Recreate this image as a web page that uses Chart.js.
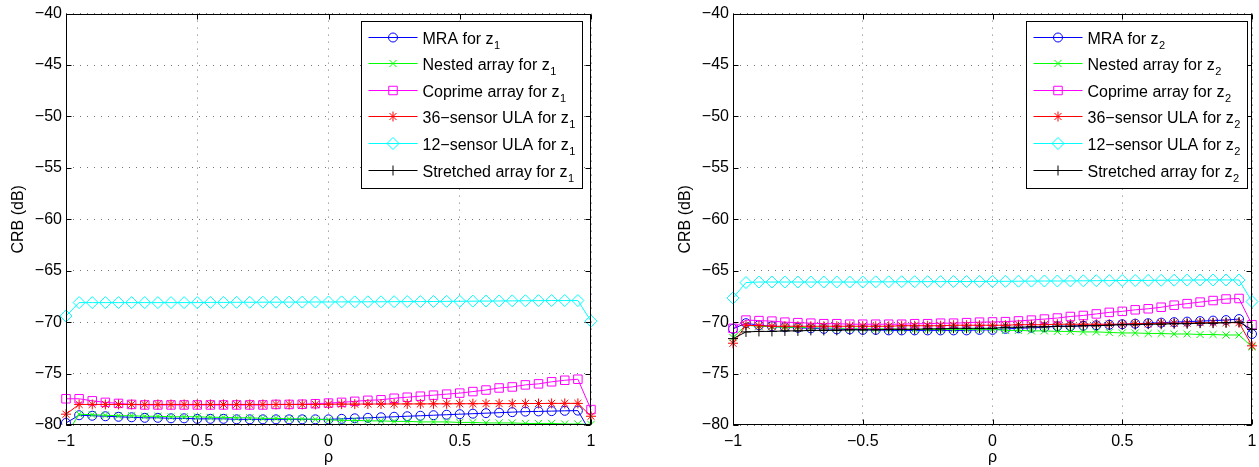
<!DOCTYPE html>
<html>
<head>
<meta charset="utf-8">
<script src="https://cdn.jsdelivr.net/npm/chart.js@4.4.0/dist/chart.umd.min.js"></script>
<style>
    body { margin: 0; background: #fff; width: 1259px; height: 467px; overflow: hidden; position: relative; }
    .panneau { position: absolute; top: 0; height: 467px; }
</style>
</head>
<body>
<div class="panneau" style="left:0;width:600px"><canvas id="graphique_z1"></canvas></div>
<div class="panneau" style="left:667px;width:592px"><canvas id="graphique_z2"></canvas></div>
<script>
// valeurs de rho (axe x)
const rho = [-1, -0.95, -0.9, -0.85, -0.8, -0.75, -0.7, -0.65, -0.6, -0.55, -0.5,
    -0.45, -0.4, -0.35, -0.3, -0.25, -0.2, -0.15, -0.1, -0.05, 0,
    0.05, 0.1, 0.15, 0.2, 0.25, 0.3, 0.35, 0.4, 0.45, 0.5,
    0.55, 0.6, 0.65, 0.7, 0.75, 0.8, 0.85, 0.9, 0.95, 1];

const noms = ['MRA for z', 'Nested array for z', 'Coprime array for z',
    '36\u2212sensor ULA for z', '12\u2212sensor ULA for z', 'Stretched array for z'];

// CRB pour z1 (dB)
const mra_z1 = [-79.8, -79.05, -79.1, -79.15, -79.2, -79.25, -79.3, -79.3, -79.35, -79.35, -79.4,
    -79.4, -79.4, -79.45, -79.45, -79.45, -79.45, -79.45, -79.45, -79.45, -79.45,
    -79.4, -79.35, -79.3, -79.25, -79.2, -79.15, -79.1, -79.05, -79.0, -78.95,
    -78.9, -78.85, -78.8, -78.75, -78.7, -78.68, -78.65, -78.62, -78.6, -80.8];
const nested_z1 = [-81.0, -78.95, -79.0, -79.05, -79.1, -79.1, -79.15, -79.15, -79.2, -79.2, -79.2,
    -79.25, -79.25, -79.3, -79.3, -79.35, -79.35, -79.4, -79.4, -79.45, -79.5,
    -79.55, -79.55, -79.6, -79.6, -79.65, -79.65, -79.7, -79.7, -79.7, -79.75,
    -79.75, -79.8, -79.8, -79.8, -79.85, -79.85, -79.85, -79.9, -79.9, -79.95];
const coprime_z1 = [-77.45, -77.45, -77.65, -77.8, -77.9, -78.0, -78.05, -78.05, -78.05, -78.05, -78.05,
    -78.05, -78.05, -78.05, -78.05, -78.05, -78.0, -78.0, -77.98, -77.93, -77.87,
    -77.8, -77.7, -77.6, -77.55, -77.4, -77.3, -77.2, -77.1, -77.0, -76.9,
    -76.75, -76.6, -76.4, -76.3, -76.1, -76.0, -75.8, -75.65, -75.55, -78.5];
const ula36_z1 = [-78.95, -78.0, -78.0, -78.0, -78.0, -78.0, -78.0, -78.0, -78.0, -78.0, -78.0,
    -78.0, -78.0, -78.0, -78.0, -78.0, -78.0, -78.0, -78.0, -78.0, -77.98,
    -77.97, -77.97, -77.96, -77.96, -77.95, -77.95, -77.95, -77.94, -77.94, -77.93,
    -77.93, -77.92, -77.92, -77.92, -77.91, -77.91, -77.9, -77.9, -77.9, -79.15];
const ula12_z1 = [-69.4, -68.1, -68.1, -68.1, -68.1, -68.1, -68.1, -68.1, -68.1, -68.1, -68.1,
    -68.08, -68.08, -68.07, -68.07, -68.06, -68.06, -68.05, -68.05, -68.04, -68.04,
    -68.03, -68.03, -68.02, -68.02, -68.01, -68.0, -68.0, -67.99, -67.98, -67.97,
    -67.96, -67.95, -67.94, -67.93, -67.92, -67.91, -67.9, -67.9, -67.9, -69.9];
const stretched_z1 = [-82.5, -81.6, -81.6, -81.6, -81.6, -81.6, -81.6, -81.6, -81.6, -81.6, -81.6,
    -81.6, -81.6, -81.6, -81.6, -81.6, -81.6, -81.6, -81.6, -81.6, -81.6,
    -81.6, -81.6, -81.6, -81.6, -81.6, -81.6, -81.6, -81.6, -81.6, -81.6,
    -81.6, -81.6, -81.6, -81.6, -81.6, -81.6, -81.6, -81.6, -81.6, -82.5];

// CRB pour z2 (dB)
const mra_z2 = [-70.65, -70.1, -70.3, -70.4, -70.5, -70.55, -70.6, -70.65, -70.7, -70.7, -70.75,
    -70.75, -70.8, -70.8, -70.8, -70.8, -70.8, -70.8, -70.8, -70.75, -70.75,
    -70.65, -70.6, -70.55, -70.5, -70.4, -70.4, -70.35, -70.3, -70.25, -70.2,
    -70.15, -70.1, -70.05, -70.0, -69.95, -69.9, -69.85, -69.8, -69.7, -71.15];
const nested_z2 = [-71.5, -70.3, -70.4, -70.45, -70.5, -70.5, -70.55, -70.55, -70.6, -70.6, -70.6,
    -70.65, -70.65, -70.65, -70.7, -70.7, -70.7, -70.7, -70.7, -70.7, -70.7,
    -70.8, -70.8, -70.85, -70.85, -70.9, -70.9, -70.95, -70.95, -71.0, -71.05,
    -71.05, -71.1, -71.1, -71.15, -71.15, -71.2, -71.2, -71.25, -71.25, -72.4];
const coprime_z2 = [-70.6, -69.8, -69.85, -69.9, -70.0, -70.05, -70.1, -70.15, -70.15, -70.2, -70.2,
    -70.2, -70.2, -70.2, -70.15, -70.15, -70.1, -70.1, -70.05, -70.0, -69.98,
    -69.95, -69.88, -69.8, -69.7, -69.6, -69.45, -69.35, -69.2, -69.05, -68.95,
    -68.8, -68.7, -68.55, -68.35, -68.2, -68.05, -67.9, -67.75, -67.7, -70.25];
const ula36_z2 = [-72.05, -70.3, -70.35, -70.4, -70.4, -70.4, -70.4, -70.4, -70.4, -70.4, -70.4,
    -70.4, -70.4, -70.35, -70.35, -70.35, -70.35, -70.3, -70.3, -70.3, -70.3,
    -70.3, -70.25, -70.25, -70.25, -70.2, -70.2, -70.2, -70.2, -70.2, -70.2,
    -70.15, -70.15, -70.1, -70.1, -70.1, -70.05, -70.05, -70.05, -70.05, -72.3];
const ula12_z2 = [-67.65, -66.15, -66.1, -66.1, -66.1, -66.1, -66.1, -66.1, -66.1, -66.1, -66.1,
    -66.08, -66.08, -66.07, -66.07, -66.06, -66.06, -66.05, -66.05, -66.04, -66.04,
    -66.03, -66.02, -66.01, -66.0, -66.0, -65.99, -65.98, -65.97, -65.96, -65.95,
    -65.95, -65.94, -65.93, -65.92, -65.91, -65.9, -65.9, -65.9, -65.9, -68.0];
const stretched_z2 = [-71.6, -70.95, -70.9, -70.9, -70.85, -70.85, -70.8, -70.8, -70.8, -70.75, -70.75,
    -70.75, -70.7, -70.7, -70.7, -70.65, -70.65, -70.6, -70.6, -70.6, -70.6,
    -70.5, -70.5, -70.45, -70.45, -70.4, -70.4, -70.35, -70.35, -70.3, -70.25,
    -70.25, -70.2, -70.2, -70.15, -70.15, -70.1, -70.1, -70.05, -70.0, -70.7];

const styles = [
    { couleur: '#0000ff', marqueur: 'circle', rayon: 4.5 },
    { couleur: '#00ff00', marqueur: 'crossRot', rayon: 5 },
    { couleur: '#ff00ff', marqueur: 'rect', rayon: 6 },
    { couleur: '#ff0000', marqueur: 'star', rayon: 5 },
    { couleur: '#00ffff', marqueur: 'rectRot', rayon: 6 },
    { couleur: '#000000', marqueur: 'cross', rayon: 5 }
];

const POLICE = "'Liberation Sans', Arial, Helvetica, sans-serif";
Chart.defaults.font.family = POLICE;
Chart.defaults.font.size = 16;
Chart.defaults.color = '#000';

function moins(v) {
    return String(v).replace('-', '\u2212');
}

// cadre, graduations vers l'interieur et legende facon matlab
const cadreMatlab = {
    id: 'cadreMatlab',
    afterDraw(chart, args, opts) {
        const ctx = chart.ctx;
        const a = chart.chartArea;
        const sx = chart.scales.x, sy = chart.scales.y;
        const g = Math.round(a.left) + 0.5, d = Math.round(a.right) - 0.5;
        const h = Math.round(a.top) + 0.5, b = Math.round(a.bottom) - 0.5;
        ctx.save();
        ctx.strokeStyle = '#000';
        ctx.lineWidth = 1;
        ctx.beginPath();
        sx.ticks.forEach(t => {
            const px = Math.round(sx.getPixelForValue(t.value)) + 0.5;
            ctx.moveTo(px, b); ctx.lineTo(px, b - 5);
            ctx.moveTo(px, h); ctx.lineTo(px, h + 5);
        });
        sy.ticks.forEach(t => {
            const py = Math.round(sy.getPixelForValue(t.value)) + 0.5;
            ctx.moveTo(g, py); ctx.lineTo(g + 5, py);
            ctx.moveTo(d, py); ctx.lineTo(d - 5, py);
        });
        ctx.stroke();
        ctx.strokeRect(g, h, d - g, b - h);

        // legende
        const items = chart.data.datasets;
        const fontMain = '16px ' + POLICE, fontSub = '11px ' + POLICE;
        let maxW = 0;
        items.forEach(ds => {
            ctx.font = fontMain;
            let w = ctx.measureText(ds.label).width;
            ctx.font = fontSub;
            w += ctx.measureText(ds.indice).width;
            maxW = Math.max(maxW, w);
        });
        const pas = 26.6;
        const largeur = Math.round(62 + maxW + 7);
        const hauteur = Math.round(15 + (items.length - 1) * pas + 19);
        const x0 = Math.round(a.right - opts.marge - largeur) + 0.5;
        const y0 = Math.round(a.top + 7) + 0.5;
        ctx.fillStyle = '#fff';
        ctx.fillRect(x0, y0, largeur, hauteur);
        ctx.strokeStyle = '#000';
        ctx.strokeRect(x0, y0, largeur, hauteur);
        items.forEach((ds, i) => {
            const cy = Math.round(y0 + 15 + i * pas) + 0.5;
            ctx.strokeStyle = ds.borderColor;
            ctx.lineWidth = 1;
            ctx.beginPath();
            ctx.moveTo(x0 + 7, cy);
            ctx.lineTo(x0 + 56, cy);
            ctx.stroke();
            if (Chart.helpers && Chart.helpers.drawPoint) {
                ctx.fillStyle = 'rgba(0,0,0,0)';
                Chart.helpers.drawPoint(ctx, {
                    pointStyle: ds.pointStyle, radius: ds.pointRadius,
                    rotation: 0, borderWidth: 1
                }, x0 + 31.5, cy);
            }
            ctx.fillStyle = '#000';
            ctx.textAlign = 'left';
            ctx.textBaseline = 'alphabetic';
            ctx.font = fontMain;
            ctx.fillText(ds.label, x0 + 61, cy + 6);
            const w = ctx.measureText(ds.label).width;
            ctx.font = fontSub;
            ctx.fillText(ds.indice, x0 + 61 + w + 0.5, cy + 11);
        });
        ctx.restore();
    }
};

function construireGraphique(idCanvas, series, indice, marge, padDroite) {
    return new Chart(document.getElementById(idCanvas).getContext('2d'), {
        type: 'line',
        data: {
            datasets: series.map((valeurs, i) => ({
                label: noms[i],
                indice: indice,
                data: valeurs.map((v, k) => ({ x: rho[k], y: v })),
                borderColor: styles[i].couleur,
                backgroundColor: 'rgba(0,0,0,0)',
                pointBorderColor: styles[i].couleur,
                pointBackgroundColor: 'rgba(0,0,0,0)',
                pointStyle: styles[i].marqueur,
                pointRadius: styles[i].rayon,
                pointBorderWidth: 1,
                borderWidth: 1,
                fill: false,
                tension: 0,
                clip: { left: 8, right: 8, top: 0, bottom: 0 },
                order: series.length - i
            }))
        },
        options: {
            responsive: true,
            maintainAspectRatio: false,
            animation: false,
            events: [],
            layout: { padding: { top: 13, right: padDroite, bottom: 0, left: 0 } },
            plugins: {
                legend: { display: false },
                tooltip: { enabled: false },
                cadreMatlab: { marge: marge }
            },
            scales: {
                x: {
                    type: 'linear',
                    min: -1,
                    max: 1,
                    ticks: { stepSize: 0.5, padding: 7, maxRotation: 0, callback: v => moins(v) },
                    grid: { color: 'rgba(0,0,0,0.55)', drawTicks: false, lineWidth: 1 },
                    border: { display: false, dash: [1, 6] },
                    title: { display: true, text: 'ρ', padding: { top: 0, bottom: 0 } },
                    afterFit: function (s) {
                        s.height = 42;
                        s.paddingLeft = 0;
                        s.paddingRight = 0;
                    }
                },
                y: {
                    type: 'linear',
                    min: -80,
                    max: -40,
                    ticks: { stepSize: 5, padding: 4, callback: v => moins(v) },
                    grid: { color: 'rgba(0,0,0,0.55)', drawTicks: false, lineWidth: 1 },
                    border: { display: false, dash: [1, 6] },
                    title: { display: true, text: 'CRB (dB)', padding: { top: 9, bottom: 0 } },
                    afterFit: function (s) { s.width = 66; }
                }
            }
        },
        plugins: [cadreMatlab]
    });
}

construireGraphique('graphique_z1',
    [mra_z1, nested_z1, coprime_z1, ula36_z1, ula12_z1, stretched_z1], '1', 9, 9);
construireGraphique('graphique_z2',
    [mra_z2, nested_z2, coprime_z2, ula36_z2, ula12_z2, stretched_z2], '2', 5, 2);
</script>
</body>
</html>
